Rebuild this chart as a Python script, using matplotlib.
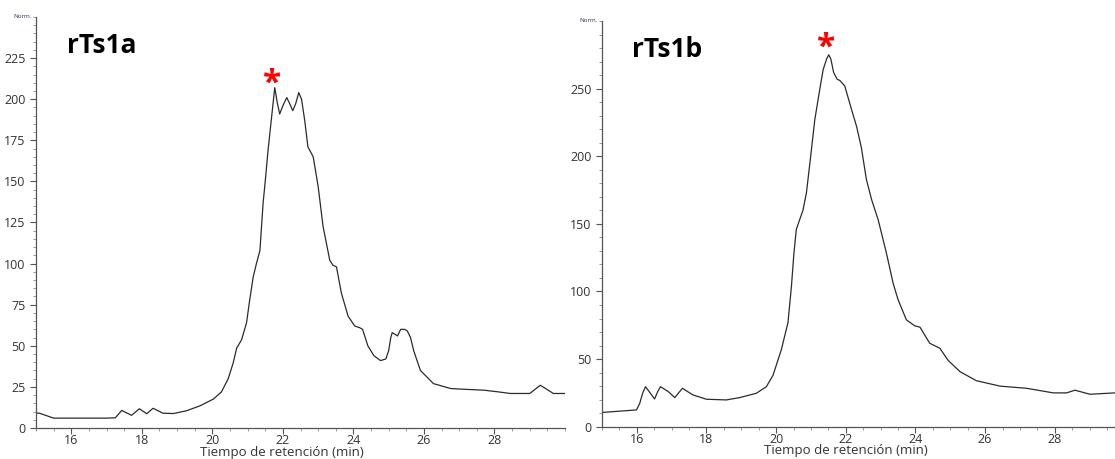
import matplotlib.pyplot as plt
from matplotlib.ticker import MultipleLocator

# rTs1a chromatogram (retention time in min, signal in Norm.)
time_a = [15.0, 15.1, 15.3, 15.5, 16.0, 17.0, 17.25, 17.43, 17.71, 17.93,
          18.14, 18.32, 18.6, 18.9, 19.27, 19.65, 20.03, 20.26, 20.45, 20.59,
          20.69, 20.83, 20.97, 21.06, 21.16, 21.25, 21.35, 21.44, 21.5, 21.58,
          21.68, 21.77, 21.84, 21.91, 22.0, 22.11, 22.2, 22.28, 22.36, 22.45,
          22.53, 22.62, 22.71, 22.86, 23.0, 23.14, 23.33, 23.42, 23.52, 23.66,
          23.85, 24.04, 24.18, 24.26, 24.41, 24.58, 24.77, 24.92, 25.0, 25.06,
          25.1, 25.18, 25.25, 25.34, 25.45, 25.53, 25.62, 25.71, 25.9, 26.27,
          26.76, 27.2, 27.7, 28.1, 28.45, 29.0, 29.15, 29.3, 29.45, 29.67,
          30.0]
signal_a = [9, 9, 7.5, 6, 6, 6, 6.2, 10.7, 7.7, 11.7,
            8.7, 12, 9, 8.8, 10.5, 13.5, 17.6, 22, 30, 39.5,
            48.6, 53.7, 64, 78, 92, 100, 108, 137, 150, 169,
            189, 207, 198, 191, 196, 201, 197, 193, 197, 204,
            200, 187, 171, 165, 147, 122.6, 102, 99, 98, 82,
            68, 62, 61, 60, 50, 44, 41, 42, 47, 55,
            58, 57, 56, 60, 60, 59, 55, 47, 35, 27,
            24, 23.5, 23, 22, 21, 21, 23.5, 26, 24, 21,
            21]

# rTs1b chromatogram
time_b = [15.03, 15.99, 16.08, 16.17, 16.25, 16.38, 16.51, 16.6, 16.68, 16.9,
          17.09, 17.2, 17.31, 17.61, 18.0, 18.57, 18.95, 19.43, 19.72, 19.91,
          20.15, 20.34, 20.44, 20.51, 20.58, 20.77, 20.87, 21.01, 21.11, 21.25,
          21.35, 21.45, 21.51, 21.57, 21.65, 21.75, 21.83, 21.97, 22.16, 22.31,
          22.45, 22.59, 22.74, 22.93, 23.17, 23.36, 23.5, 23.74, 23.98, 24.13,
          24.41, 24.7, 24.94, 25.28, 25.75, 26.43, 27.19, 27.96, 28.34, 28.58,
          29.01, 29.73]
signal_b = [10.6, 12.4, 17, 25, 29.6, 25, 20.5, 26, 29.6, 26,
            21.5, 25, 28.4, 23.5, 20.3, 19.8, 21.5, 24.7, 29.6, 38,
            57, 77, 104, 128, 146, 160, 173, 204, 227, 249,
            264, 272, 275, 272, 262, 257, 256, 252, 235, 222,
            206, 183, 168, 153, 128, 106, 94, 79, 74.6, 73.6,
            61.7, 58, 49, 40.7, 34, 30, 28.4, 25, 25, 27,
            24, 25]

panels = [
    dict(name="rTs1a", t=time_a, s=signal_a, xlim=(15, 30), ylim=(0, 250),
         yticks=list(range(0, 226, 25)), ymin=5, star=(21.69, 209),
         rect=[36 / 1115, 31 / 459, 529 / 1115, 411 / 459], xlab=0.465),
    dict(name="rTs1b", t=time_b, s=signal_b, xlim=(15, 29.73), ylim=(0, 300),
         yticks=list(range(0, 251, 50)), ymin=10, star=(21.43, 280),
         rect=[602 / 1115, 32.3 / 459, 513 / 1115, 405.7 / 459], xlab=0.476),
]

plt.rcParams['font.family'] = ['Open Sans', 'DejaVu Sans']
fig = plt.figure(figsize=(11.15, 4.59), dpi=100)
spine_col = "#555555"

for p in panels:
    ax = fig.add_axes(p["rect"])
    ax.plot(p["t"], p["s"], color="#2b2b2b", lw=0.9)
    ax.set_xlim(*p["xlim"])
    ax.set_ylim(*p["ylim"])
    ax.set_xticks([16, 18, 20, 22, 24, 26, 28])
    ax.set_yticks(p["yticks"])
    ax.xaxis.set_minor_locator(MultipleLocator(0.5))
    ax.yaxis.set_minor_locator(MultipleLocator(p["ymin"]))
    for side in ("top", "right"):
        ax.spines[side].set_visible(False)
    for side in ("left", "bottom"):
        ax.spines[side].set_color(spine_col)
        ax.spines[side].set_linewidth(0.9)
    ax.tick_params(which="major", length=4, width=0.8, color=spine_col,
                   labelsize=9, labelcolor="#333333")
    ax.tick_params(axis="x", which="major", pad=0.5)
    ax.tick_params(which="minor", length=2, width=0.6, color="#888888")

    ax.set_xlabel("Tiempo de retención (min)", fontsize=9.5, color="#333333")
    ax.xaxis.label.set_va("center")
    ax.xaxis.set_label_coords(p["xlab"], -0.059)

    ax.text(-0.008, 1.0, "Norm.", transform=ax.transAxes, fontsize=4.5,
            color="#333355", ha="right", va="center")
    ax.text(0.058, 0.93, p["name"], transform=ax.transAxes, fontsize=19,
            fontweight="bold", color="black", ha="left", va="center")
    ax.text(p["star"][0], p["star"][1], "*", fontsize=24, fontweight="bold",
            color="red", ha="center", va="center")

fig.savefig("out.png", dpi=100)
plt.close(fig)
